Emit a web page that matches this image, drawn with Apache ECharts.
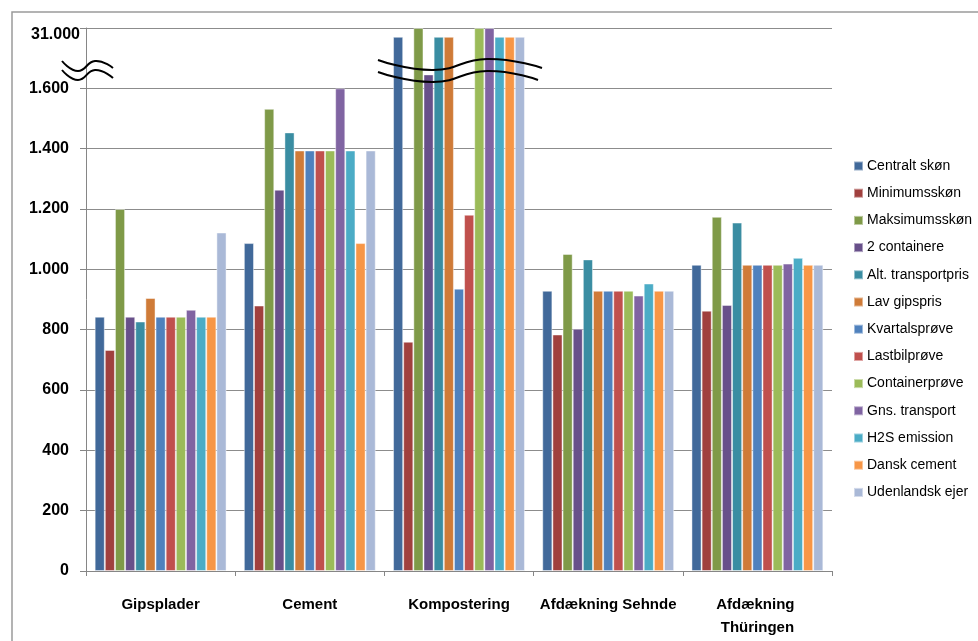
<!DOCTYPE html>
<html>
<head>
<meta charset="utf-8">
<script src="https://cdn.jsdelivr.net/npm/echarts@6/dist/echarts.min.js"></script>
<style>
  html, body { margin: 0; padding: 0; background: #fff; }
  #chart { width: 978px; height: 641px; }
</style>
</head>
<body>
<div id="chart"></div>
<script>
// Categories (scenario per plant)
const categories = ['Gipsplader', 'Cement', 'Kompostering', 'Afdækning Sehnde', 'Afdækning Thüringen'];

// Series values (kr. per ton) for each scenario, one entry per category
const centraltSkon      = [843, 1087, 26700, 929, 1015];
const minimumsskon      = [733, 880, 760, 784, 863];
const maksimumsskon     = [1200, 1532, 31000, 1051, 1174];
const toContainere      = [843, 1264, 8400, 803, 882];
const altTransportpris  = [827, 1454, 26700, 1033, 1155];
const lavGipspris       = [905, 1394, 26700, 929, 1015];
const kvartalsprove     = [843, 1394, 936, 929, 1015];
const lastbilprove      = [843, 1394, 1181, 929, 1015];
const containerprove    = [843, 1394, 31000, 929, 1015];
const gnsTransport      = [866, 1600, 31000, 913, 1019];
const h2sEmission       = [843, 1394, 26700, 953, 1038];
const danskCement       = [843, 1087, 26700, 929, 1015];
const udenlandskEjer    = [1122, 1394, 26700, 929, 1015];

// Y-axis tick values (lower linear segment) and the value at the top of the broken axis
const yTicks = [0, 200, 400, 600, 800, 1000, 1200, 1400, 1600];
const breakValue = 1600;
const topValue = 31000;

// Broken scale: values above the break are compressed into the last axis step
const axisStep = 200;
const axisTop = breakValue + axisStep;
function toAxis(v) {
  if (v <= breakValue) return v;
  return breakValue + (v - breakValue) / (topValue - breakValue) * axisStep;
}

const seriesDefs = [
  ['Centralt skøn', centraltSkon, '#41699A'],
  ['Minimumsskøn', minimumsskon, '#A0403E'],
  ['Maksimumsskøn', maksimumsskon, '#7F9A48'],
  ['2 containere', toContainere, '#68508A'],
  ['Alt. transportpris', altTransportpris, '#3A8DA2'],
  ['Lav gipspris', lavGipspris, '#CF7B38'],
  ['Kvartalsprøve', kvartalsprove, '#4F81BD'],
  ['Lastbilprøve', lastbilprove, '#C0504D'],
  ['Containerprøve', containerprove, '#9BBB59'],
  ['Gns. transport', gnsTransport, '#8064A2'],
  ['H2S emission', h2sEmission, '#4BACC6'],
  ['Dansk cement', danskCement, '#F79646'],
  ['Udenlandsk ejer', udenlandskEjer, '#AAB9D7']
];

function fmt(v) {
  return String(v).replace(/\B(?=(\d{3})+(?!\d))/g, '.');
}

const FONT = 'Liberation Sans';
const chart = echarts.init(document.getElementById('chart'), null, { renderer: 'canvas' });

const option = {
  animation: false,
  backgroundColor: '#fff',
  textStyle: { fontFamily: FONT },
  grid: { left: 86, right: 146, top: 28, bottom: 70, containLabel: false },
  legend: {
    orient: 'vertical',
    left: 853,
    top: 159,
    padding: 0,
    itemWidth: 9,
    itemHeight: 9,
    itemGap: 13.2,
    icon: 'rect',
    textStyle: { fontFamily: FONT, fontSize: 14, color: '#000', lineHeight: 14, padding: [0, 0, 0, -1] },
    data: seriesDefs.map(d => d[0])
  },
  xAxis: {
    type: 'category',
    data: categories,
    axisLine: { lineStyle: { color: '#868686', width: 1 } },
    axisTick: { show: true, length: 5, lineStyle: { color: '#868686' } },
    axisLabel: {
      interval: 0,
      margin: 22,
      fontFamily: FONT,
      fontSize: 15,
      fontWeight: 'bold',
      color: '#000',
      lineHeight: 23,
      width: 150,
      overflow: 'break'
    },
    splitLine: { show: false }
  },
  yAxis: {
    type: 'value',
    min: 0,
    max: axisTop,
    interval: axisStep,
    axisLine: { show: true, lineStyle: { color: '#868686', width: 1 } },
    axisTick: { show: true, length: 6, lineStyle: { color: '#868686' } },
    axisLabel: {
      margin: 17,
      fontFamily: FONT,
      fontSize: 16,
      fontWeight: 'bold',
      color: '#000',
      formatter: v => (yTicks.indexOf(v) >= 0 ? fmt(v) : '')
    },
    splitLine: { show: true, lineStyle: { color: '#8c8c8c', width: 1 } }
  },
  series: seriesDefs.map(([name, values, color]) => ({
    name,
    type: 'bar',
    data: values.map(toAxis),
    barGap: '0%',
    barCategoryGap: '11.6%',
    itemStyle: { color, borderColor: 'rgba(255,255,255,0.45)', borderWidth: 1 }
  }))
};

chart.setOption(option);

// Axis-break decorations and the label for the top of the broken axis
function wave(points) {
  return {
    type: 'polyline',
    z: 100,
    shape: { points, smooth: 0.5 },
    style: { stroke: '#000', lineWidth: 2, fill: null }
  };
}
const yTopPx = chart.convertToPixel({ yAxisIndex: 0 }, axisTop);
chart.setOption({
  graphic: [
    {
      type: 'rect',
      z: 0,
      silent: true,
      shape: { x: 12, y: 12, width: 1000, height: 700 },
      style: { fill: null, stroke: '#9a9a9a', lineWidth: 1.5 }
    },
    {
      type: 'text',
      z: 100,
      style: {
        text: fmt(topValue),
        x: 80,
        y: yTopPx + 7,
        align: 'right',
        verticalAlign: 'middle',
        fontFamily: FONT,
        fontSize: 16,
        fontWeight: 'bold',
        fill: '#000'
      }
    },
    wave([[62, 61], [78, 71], [95, 61], [113, 68]]),
    wave([[62, 70], [78, 80], [95, 70], [113, 78]]),
    wave([[378, 60], [433, 70], [487, 59], [542, 68]]),
    wave([[378, 72], [433, 82], [487, 71], [538, 80]])
  ]
});
</script>
</body>
</html>
